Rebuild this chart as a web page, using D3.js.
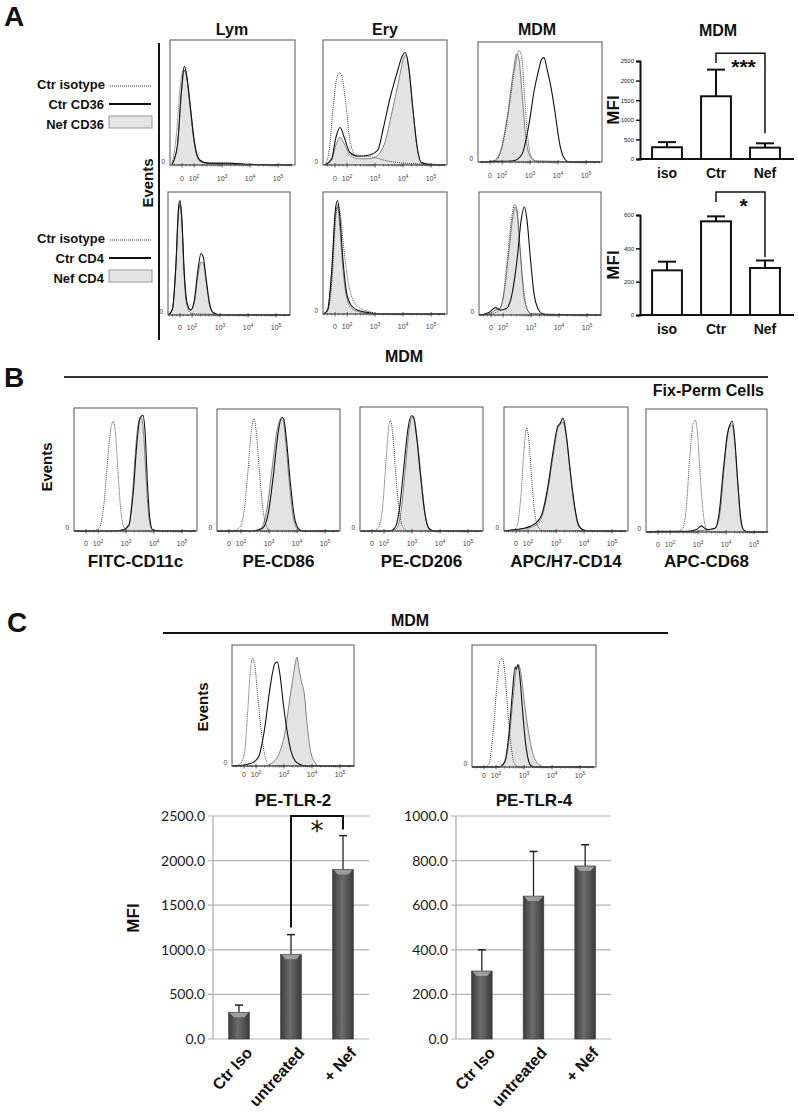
<!DOCTYPE html>
<html>
<head>
<meta charset="utf-8">
<script src="https://cdn.jsdelivr.net/npm/d3@7"></script>
<style>
body { margin: 0; background: #fff; }
svg { display: block; font-family: "Liberation Sans", Arial, sans-serif; }
</style>
</head>
<body>
<svg id="fig" width="798" height="1112"></svg>
<script>
// flow cytometry axis, in log10 units ("0" sits at 1.57 on the biexponential scale)
var histTickPos = [1.57, 2, 3, 4, 5];
var histTickBase = ["0", "10", "10", "10", "10"];
var histTickExp = ["", "2", "3", "4", "5"];

// histogram curves: [log position, relative height]
var lymCD36 = {
  iso: [[1.2,0],[1.35,0.2],[1.5,0.62],[1.62,0.76],[1.7,0.74],[1.8,0.6],[1.95,0.3],[2.1,0.08],[2.3,0.02],[3,0.01],[4,0.005],[5.5,0]],
  ctr: [[1.2,0],[1.4,0.15],[1.55,0.6],[1.65,0.79],[1.72,0.74],[1.85,0.5],[2.0,0.2],[2.2,0.04],[2.5,0.015],[3.2,0.015],[4,0.005],[5.5,0]],
  nef: [[1.2,0],[1.4,0.14],[1.55,0.58],[1.65,0.76],[1.72,0.72],[1.85,0.48],[2.0,0.18],[2.2,0.03],[2.6,0.01],[5.5,0]]
};
var eryCD36 = {
  iso: [[1.2,0],[1.35,0.1],[1.5,0.45],[1.62,0.68],[1.72,0.74],[1.82,0.7],[1.95,0.5],[2.1,0.2],[2.3,0.08],[2.6,0.07],[3.0,0.06],[3.3,0.04],[3.8,0.02],[4.5,0.01],[5.5,0]],
  ctr: [[1.2,0],[1.45,0.05],[1.6,0.22],[1.75,0.3],[1.9,0.22],[2.1,0.1],[2.4,0.07],[2.8,0.08],[3.1,0.12],[3.3,0.3],[3.55,0.55],[3.8,0.75],[3.95,0.86],[4.08,0.9],[4.2,0.78],[4.35,0.45],[4.5,0.15],[4.65,0.02],[5,0],[5.5,0]],
  nef: [[1.2,0],[1.45,0.04],[1.6,0.16],[1.75,0.22],[1.9,0.17],[2.1,0.08],[2.4,0.05],[2.8,0.05],[3.1,0.08],[3.35,0.18],[3.6,0.42],[3.85,0.68],[4.0,0.84],[4.1,0.88],[4.22,0.76],[4.35,0.45],[4.5,0.14],[4.65,0.02],[5.5,0]]
};
var mdmCD36 = {
  iso: [[1.2,0],[1.75,0.01],[2.0,0.12],[2.25,0.45],[2.45,0.78],[2.6,0.93],[2.7,0.88],[2.8,0.55],[2.92,0.2],[3.05,0.04],[3.3,0],[5.5,0]],
  ctr: [[1.2,0],[1.8,0.005],[2.4,0.01],[2.7,0.06],[2.95,0.3],[3.15,0.6],[3.3,0.76],[3.42,0.86],[3.5,0.87],[3.6,0.78],[3.75,0.62],[3.9,0.4],[4.05,0.16],[4.2,0.04],[4.4,0],[5.5,0]],
  nef: [[1.2,0],[1.7,0.01],[1.95,0.1],[2.2,0.4],[2.4,0.75],[2.52,0.9],[2.6,0.86],[2.72,0.55],[2.85,0.2],[3.0,0.05],[3.2,0.01],[5.5,0]]
};
var lymCD4 = {
  iso: [[1.15,0],[1.3,0.05],[1.42,0.4],[1.52,0.86],[1.57,0.9],[1.63,0.78],[1.72,0.3],[1.85,0.05],[2.0,0.01],[5.5,0]],
  ctr: [[1.15,0],[1.3,0.05],[1.42,0.4],[1.52,0.88],[1.57,0.93],[1.63,0.8],[1.72,0.35],[1.82,0.1],[1.95,0.04],[2.08,0.12],[2.2,0.35],[2.32,0.5],[2.4,0.47],[2.5,0.3],[2.62,0.1],[2.75,0.02],[3,0],[5.5,0]],
  nef: [[1.15,0],[1.3,0.05],[1.42,0.38],[1.52,0.85],[1.57,0.9],[1.63,0.78],[1.72,0.33],[1.82,0.09],[1.95,0.04],[2.08,0.1],[2.2,0.3],[2.32,0.43],[2.4,0.42],[2.5,0.27],[2.62,0.08],[2.75,0.02],[3,0],[5.5,0]]
};
var eryCD4 = {
  iso: [[1.15,0],[1.32,0.03],[1.47,0.3],[1.6,0.8],[1.68,0.9],[1.78,0.78],[1.9,0.5],[2.05,0.25],[2.2,0.12],[2.45,0.05],[2.8,0.02],[3.2,0],[5.5,0]],
  ctr: [[1.15,0],[1.3,0.03],[1.45,0.35],[1.58,0.85],[1.66,0.93],[1.74,0.8],[1.85,0.45],[1.98,0.18],[2.15,0.07],[2.4,0.03],[2.8,0.01],[3.2,0],[5.5,0]],
  nef: [[1.15,0],[1.3,0.03],[1.45,0.33],[1.58,0.8],[1.66,0.88],[1.74,0.72],[1.85,0.38],[1.98,0.14],[2.15,0.05],[2.4,0.02],[3,0],[5.5,0]]
};
var mdmCD4 = {
  iso: [[1.15,0],[1.6,0.01],[1.85,0.04],[2.0,0.15],[2.15,0.45],[2.3,0.78],[2.42,0.9],[2.5,0.85],[2.6,0.55],[2.72,0.25],[2.85,0.06],[3.0,0.01],[5.5,0]],
  ctr: [[1.15,0],[1.5,0.02],[1.72,0.06],[1.9,0.04],[2.1,0.05],[2.3,0.15],[2.5,0.45],[2.65,0.78],[2.76,0.88],[2.85,0.78],[2.98,0.45],[3.1,0.18],[3.25,0.05],[3.4,0.01],[3.6,0],[5.5,0]],
  nef: [[1.15,0],[1.5,0.01],[1.72,0.04],[1.9,0.06],[2.05,0.2],[2.2,0.5],[2.35,0.8],[2.43,0.88],[2.52,0.8],[2.62,0.5],[2.72,0.2],[2.85,0.05],[3.0,0.01],[5.5,0]]
};
var cd11c = {
  iso: [[1.15,0],[1.8,0],[2.05,0.03],[2.2,0.2],[2.35,0.6],[2.48,0.86],[2.55,0.89],[2.62,0.8],[2.72,0.45],[2.82,0.15],[2.92,0.03],[3.1,0],[5.5,0]],
  ctr: [[1.15,0],[2.5,0],[2.9,0.01],[3.1,0.05],[3.25,0.3],[3.4,0.75],[3.5,0.92],[3.6,0.94],[3.68,0.8],[3.76,0.4],[3.85,0.1],[3.95,0.01],[4.2,0],[5.5,0]],
  nef: [[1.15,0],[2.5,0],[2.9,0.01],[3.1,0.04],[3.22,0.28],[3.36,0.72],[3.46,0.9],[3.55,0.92],[3.63,0.78],[3.72,0.4],[3.82,0.1],[3.93,0.01],[4.2,0],[5.5,0]]
};
var cd86 = {
  iso: [[1.15,0],[1.7,0],[1.95,0.03],[2.1,0.15],[2.25,0.5],[2.38,0.85],[2.46,0.92],[2.54,0.82],[2.65,0.5],[2.78,0.18],[2.9,0.04],[3.05,0],[5.5,0]],
  ctr: [[1.15,0],[2.4,0],[2.75,0.02],[2.95,0.12],[3.15,0.45],[3.32,0.8],[3.45,0.93],[3.52,0.92],[3.62,0.75],[3.75,0.42],[3.9,0.12],[4.05,0.02],[4.2,0],[5.5,0]],
  nef: [[1.15,0],[2.4,0],[2.7,0.02],[2.9,0.15],[3.1,0.5],[3.28,0.82],[3.42,0.92],[3.5,0.9],[3.6,0.72],[3.72,0.4],[3.86,0.12],[4.0,0.02],[4.2,0],[5.5,0]]
};
var cd206 = {
  iso: [[1.15,0],[1.6,0],[1.8,0.03],[1.95,0.2],[2.08,0.6],[2.18,0.86],[2.23,0.89],[2.3,0.8],[2.42,0.45],[2.55,0.15],[2.68,0.03],[2.85,0],[5.5,0]],
  ctr: [[1.15,0],[2.2,0],[2.4,0.03],[2.55,0.18],[2.7,0.5],[2.85,0.82],[2.97,0.93],[3.05,0.92],[3.15,0.78],[3.3,0.45],[3.45,0.15],[3.6,0.02],[3.8,0],[5.5,0]],
  nef: [[1.15,0],[2.2,0],[2.45,0.02],[2.6,0.15],[2.75,0.48],[2.9,0.82],[3.0,0.92],[3.08,0.9],[3.18,0.75],[3.33,0.42],[3.48,0.12],[3.62,0.02],[3.8,0],[5.5,0]]
};
var cd14 = {
  iso: [[1.15,0],[1.45,0],[1.62,0.05],[1.75,0.3],[1.87,0.7],[1.95,0.83],[2.02,0.75],[2.12,0.45],[2.22,0.18],[2.32,0.05],[2.45,0.01],[2.6,0],[5.5,0]],
  ctr: [[1.15,0],[1.5,0.01],[1.8,0.02],[2.1,0.04],[2.35,0.08],[2.5,0.14],[2.7,0.35],[2.9,0.65],[3.05,0.84],[3.15,0.87],[3.25,0.91],[3.35,0.8],[3.5,0.5],[3.65,0.22],[3.8,0.05],[3.95,0.01],[4.1,0],[5.5,0]],
  nef: [[1.15,0],[1.5,0.01],[1.8,0.015],[2.1,0.03],[2.35,0.06],[2.5,0.12],[2.7,0.32],[2.9,0.62],[3.05,0.82],[3.15,0.86],[3.25,0.88],[3.35,0.78],[3.5,0.48],[3.65,0.2],[3.8,0.04],[3.95,0.01],[4.1,0],[5.5,0]]
};
var cd68 = {
  iso: [[1.15,0],[2.2,0],[2.45,0.03],[2.58,0.2],[2.7,0.6],[2.82,0.88],[2.9,0.91],[2.98,0.8],[3.08,0.45],[3.2,0.12],[3.32,0.02],[3.5,0],[5.5,0]],
  ctr: [[1.15,0],[1.6,0.005],[2.6,0.005],[2.95,0.02],[3.12,0.05],[3.3,0.02],[3.6,0.03],[3.75,0.15],[3.9,0.5],[4.05,0.8],[4.15,0.88],[4.22,0.9],[4.3,0.78],[4.42,0.4],[4.52,0.12],[4.62,0.02],[4.8,0],[5.5,0]],
  nef: [[1.15,0],[2.8,0],[3.0,0.01],[3.3,0.015],[3.6,0.03],[3.78,0.15],[3.92,0.5],[4.05,0.78],[4.15,0.86],[4.22,0.87],[4.3,0.75],[4.42,0.38],[4.52,0.1],[4.62,0.02],[4.8,0],[5.5,0]]
};
var tlr2 = {
  iso: [[1.15,0],[1.4,0.01],[1.58,0.1],[1.7,0.45],[1.8,0.8],[1.88,0.89],[1.95,0.84],[2.05,0.6],[2.18,0.3],[2.3,0.1],[2.42,0.02],[2.6,0],[5.5,0]],
  ctr: [[1.15,0],[1.6,0.01],[1.9,0.03],[2.1,0.08],[2.3,0.3],[2.5,0.65],[2.68,0.85],[2.76,0.86],[2.85,0.76],[2.98,0.5],[3.1,0.3],[3.25,0.12],[3.4,0.04],[3.6,0.01],[3.8,0],[5.5,0]],
  nef: [[1.15,0],[2.3,0],[2.6,0.03],[2.85,0.12],[3.05,0.3],[3.2,0.55],[3.3,0.7],[3.4,0.85],[3.46,0.9],[3.52,0.82],[3.62,0.7],[3.72,0.6],[3.82,0.35],[3.95,0.12],[4.1,0.03],[4.25,0],[5.5,0]]
};
var tlr4 = {
  iso: [[1.15,0],[1.6,0],[1.75,0.03],[1.9,0.3],[2.05,0.72],[2.15,0.88],[2.22,0.89],[2.3,0.8],[2.42,0.45],[2.55,0.15],[2.65,0.03],[2.8,0],[5.5,0]],
  ctr: [[1.15,0],[2.1,0],[2.3,0.04],[2.45,0.25],[2.58,0.6],[2.68,0.82],[2.72,0.8],[2.78,0.84],[2.85,0.74],[2.95,0.45],[3.05,0.2],[3.15,0.06],[3.25,0.01],[3.4,0],[5.5,0]],
  nef: [[1.15,0],[2.1,0],[2.3,0.03],[2.45,0.2],[2.6,0.55],[2.72,0.8],[2.8,0.84],[2.88,0.78],[3.0,0.55],[3.15,0.3],[3.3,0.12],[3.45,0.04],[3.6,0.01],[3.75,0],[5.5,0]]
};

// MFI bar charts, panel A
var mfiCats = ["iso", "Ctr", "Nef"];
var cd36Mfi = [300, 1600, 290];
var cd36Err = [130, 680, 110];
var cd36Ticks = [0, 500, 1000, 1500, 2000, 2500];
var cd4Mfi = [268, 562, 282];
var cd4Err = [52, 30, 45];
var cd4Ticks = [0, 200, 400, 600];

// MFI bar charts, panel C
var tlrCats = ["Ctr Iso", "untreated", "+ Nef"];
var tlr2Mfi = [300, 950, 1900];
var tlr2Err = [80, 220, 380];
var tlr2Ticks = [0, 500, 1000, 1500, 2000, 2500];
var tlr4Mfi = [305, 641, 776];
var tlr4Err = [95, 200, 95];
var tlr4Ticks = [0, 200, 400, 600, 800, 1000];

var svg = d3.select("#fig");
var bold = "bold";

function label(x, y, txt, size, opts) {
  opts = opts || {};
  var t = svg.append("text")
      .attr("x", x).attr("y", y)
      .attr("font-size", size)
      .attr("font-weight", opts.weight || bold)
      .attr("text-anchor", opts.anchor || "middle")
      .attr("fill", opts.fill || "#111")
      .text(txt);
  if (opts.rotate) t.attr("transform", "rotate(" + opts.rotate + "," + x + "," + y + ")");
  if (opts.family) t.attr("font-family", opts.family);
  return t;
}

function histo(x0, y0, w, h, d, labOff) {
  var g = svg.append("g").attr("transform", "translate(" + x0 + "," + y0 + ")");
  var x = d3.scaleLinear().domain([1.14, 1.14 + w / 28]).range([0, w]);
  var y = d3.scaleLinear().domain([0, 1]).range([h, 0]);
  var area = d3.area().x(function(p) { return x(p[0]); }).y0(h)
      .y1(function(p) { return y(p[1]); }).curve(d3.curveMonotoneX);
  var line = d3.line().x(function(p) { return x(p[0]); })
      .y(function(p) { return y(p[1]); }).curve(d3.curveMonotoneX);

  g.append("path").datum(d.nef).attr("d", area)
      .attr("fill", "#e3e3e3").attr("stroke", "#666").attr("stroke-width", 0.8);
  g.append("path").datum(d.iso).attr("d", line)
      .attr("fill", "none").attr("stroke", "#333").attr("stroke-width", 0.9)
      .attr("stroke-dasharray", "1,1");
  g.append("path").datum(d.ctr).attr("d", line)
      .attr("fill", "none").attr("stroke", "#111").attr("stroke-width", 1.1);

  g.append("rect").attr("width", w).attr("height", h)
      .attr("fill", "none").attr("stroke", "#555").attr("stroke-width", 1);

  // minor ticks along the bottom
  var minor = [1.3, 1.45, 1.7, 1.85];
  [2, 3, 4, 5].forEach(function(dec) {
    d3.range(2, 10).forEach(function(k) { minor.push(dec + Math.log10(k)); });
  });
  minor = minor.filter(function(v) { return x(v) < w - 2; });
  g.selectAll(".mn").data(minor).enter().append("line")
      .attr("x1", function(v) { return x(v); }).attr("x2", function(v) { return x(v); })
      .attr("y1", h - 1).attr("y2", h + 1.5)
      .attr("stroke", "#444").attr("stroke-width", 0.6);
  g.selectAll(".mj").data(histTickPos).enter().append("line")
      .attr("x1", function(v) { return x(v); }).attr("x2", function(v) { return x(v); })
      .attr("y1", h - 2).attr("y2", h + 2.5)
      .attr("stroke", "#333").attr("stroke-width", 0.8);
  var tl = g.selectAll(".tl").data(histTickPos).enter().append("text")
      .attr("x", function(v) { return x(v); })
      .attr("y", h + labOff)
      .attr("text-anchor", "middle")
      .attr("font-size", 7)
      .attr("fill", "#444")
      .text(function(v, i) { return histTickBase[i]; });
  tl.append("tspan").attr("dy", -3).attr("font-size", 5)
      .text(function(v, i) { return histTickExp[i]; });
  g.append("text").attr("x", -5).attr("y", h - 1)
      .attr("text-anchor", "end").attr("font-size", 6.5).attr("fill", "#444").text("0");
}

function whiteBars(cfg) {
  var x = d3.scaleBand().domain(mfiCats).range([642.5, 789.5])
      .paddingInner(0.39).paddingOuter(0.195);
  var y = d3.scaleLinear().domain([0, cfg.max]).range([cfg.base, cfg.top]);
  var g = svg.append("g");

  g.selectAll(".err").data(cfg.vals).enter().append("line")
      .attr("x1", function(v, i) { return x(mfiCats[i]) + x.bandwidth() / 2; })
      .attr("x2", function(v, i) { return x(mfiCats[i]) + x.bandwidth() / 2; })
      .attr("y1", function(v) { return y(v); })
      .attr("y2", function(v, i) { return y(v + cfg.errs[i]); })
      .attr("stroke", "#111").attr("stroke-width", 2);
  g.selectAll(".cap").data(cfg.vals).enter().append("line")
      .attr("x1", function(v, i) { return x(mfiCats[i]) + x.bandwidth() / 2 - 9; })
      .attr("x2", function(v, i) { return x(mfiCats[i]) + x.bandwidth() / 2 + 9; })
      .attr("y1", function(v, i) { return y(v + cfg.errs[i]); })
      .attr("y2", function(v, i) { return y(v + cfg.errs[i]); })
      .attr("stroke", "#111").attr("stroke-width", 2);
  g.selectAll(".bar").data(cfg.vals).enter().append("rect")
      .attr("x", function(v, i) { return x(mfiCats[i]); })
      .attr("width", x.bandwidth())
      .attr("y", function(v) { return y(v); })
      .attr("height", function(v) { return cfg.base - y(v); })
      .attr("fill", "#fff").attr("stroke", "#111").attr("stroke-width", 2);

  var ax = g.append("g").attr("transform", "translate(640,0)")
      .call(d3.axisLeft(y).tickValues(cfg.ticks).tickSize(4).tickPadding(2)
        .tickFormat(d3.format("d")));
  ax.select(".domain").attr("stroke-width", 2).attr("stroke", "#111");
  ax.selectAll(".tick line").attr("stroke-width", 1.5).attr("stroke", "#111");
  ax.selectAll(".tick text").attr("font-size", 6).attr("font-family", "Liberation Sans, Arial")
      .attr("fill", "#222");
  g.append("line").attr("x1", 639).attr("x2", 794)
      .attr("y1", cfg.base).attr("y2", cfg.base)
      .attr("stroke", "#111").attr("stroke-width", 2);

  g.selectAll(".cat").data(mfiCats).enter().append("text")
      .attr("x", function(c) { return x(c) + x.bandwidth() / 2; })
      .attr("y", cfg.base + 18.5)
      .attr("text-anchor", "middle").attr("font-size", 14).attr("font-weight", bold)
      .attr("fill", "#111").text(function(c) { return c; });

  // significance bracket between Ctr and Nef
  var cx = x("Ctr") + x.bandwidth() / 2, nx = x("Nef") + x.bandwidth() / 2;
  var b = cfg.bracket;
  g.append("path")
      .attr("d", "M" + cx + "," + y(b[1]) + "V" + y(b[0]) + "H" + nx + "V" + y(b[2]))
      .attr("fill", "none").attr("stroke", "#111").attr("stroke-width", 1.5);
  g.append("text").attr("x", (cx + nx) / 2 + 3).attr("y", y(b[1]) + 11)
      .attr("text-anchor", "middle").attr("font-size", 21).attr("font-weight", bold)
      .attr("fill", "#111").text(cfg.star);

  label(619, (cfg.base + cfg.top) / 2, "MFI", 17, { rotate: -90 });
}

function grayBars(cfg) {
  var x = d3.scaleBand().domain(tlrCats).range(cfg.xr).paddingInner(0.6).paddingOuter(0.3);
  var y = d3.scaleLinear().domain([0, cfg.max]).range([1039, 816]);
  var g = svg.append("g");

  g.selectAll(".grid").data(cfg.ticks).enter().append("line")
      .attr("x1", cfg.xr[0] - 5).attr("x2", cfg.xr[1])
      .attr("y1", function(v) { return y(v); }).attr("y2", function(v) { return y(v); })
      .attr("stroke", "#b3b3b3").attr("stroke-width", 1.2);
  g.append("line").attr("x1", cfg.xr[0]).attr("x2", cfg.xr[0])
      .attr("y1", y(0)).attr("y2", y(cfg.max))
      .attr("stroke", "#a8a8a8").attr("stroke-width", 1.2);
  g.selectAll(".tk").data(cfg.ticks).enter().append("text")
      .attr("x", cfg.xr[0] - 8).attr("y", function(v) { return y(v); })
      .attr("dy", "0.36em").attr("text-anchor", "end")
      .attr("font-size", 14).attr("font-family", "Lato, 'Open Sans', sans-serif")
      .attr("fill", "#1a1a1a").text(d3.format(".1f"));

  var bw = x.bandwidth();
  g.selectAll(".err").data(cfg.vals).enter().append("line")
      .attr("x1", function(v, i) { return x(tlrCats[i]) + bw / 2; })
      .attr("x2", function(v, i) { return x(tlrCats[i]) + bw / 2; })
      .attr("y1", function(v) { return y(v); })
      .attr("y2", function(v, i) { return y(v + cfg.errs[i]); })
      .attr("stroke", "#222").attr("stroke-width", 1.3);
  g.selectAll(".cap").data(cfg.vals).enter().append("line")
      .attr("x1", function(v, i) { return x(tlrCats[i]) + bw / 2 - 4; })
      .attr("x2", function(v, i) { return x(tlrCats[i]) + bw / 2 + 4; })
      .attr("y1", function(v, i) { return y(v + cfg.errs[i]); })
      .attr("y2", function(v, i) { return y(v + cfg.errs[i]); })
      .attr("stroke", "#222").attr("stroke-width", 1.5);
  g.selectAll(".bar").data(cfg.vals).enter().append("rect")
      .attr("x", function(v, i) { return x(tlrCats[i]); })
      .attr("width", bw)
      .attr("y", function(v) { return y(v); })
      .attr("height", function(v) { return y(0) - y(v); })
      .attr("fill", "url(#barGrad)").attr("stroke", "#3a3a3a").attr("stroke-width", 0.6);
  g.selectAll(".hl").data(cfg.vals).enter().append("path")
      .attr("d", function(v, i) {
        var x0 = x(tlrCats[i]), y0 = y(v);
        return "M" + (x0 + 1) + "," + (y0 + 0.5) + "H" + (x0 + bw - 1) +
          "L" + (x0 + bw - 5) + "," + (y0 + 5) + "H" + (x0 + 5) + "Z";
      })
      .attr("fill", "#a9a9a9").attr("opacity", 0.85);

  g.selectAll(".cat").data(tlrCats).enter().append("text")
      .attr("transform", function(c) {
        return "translate(" + (x(c) + bw / 2 + 6) + ",1046) rotate(-48)";
      })
      .attr("text-anchor", "end").attr("dy", "0.7em")
      .attr("font-size", 16).attr("font-weight", bold).attr("fill", "#111")
      .text(function(c) { return c; });

  if (cfg.bracket) {
    var ux = x(tlrCats[1]) + bw / 2, nx = x(tlrCats[2]) + bw / 2;
    var b = cfg.bracket;
    g.append("path")
        .attr("d", "M" + ux + "," + y(b[1]) + "V" + y(b[0]) + "H" + nx + "V" + y(b[2]))
        .attr("fill", "none").attr("stroke", "#111").attr("stroke-width", 2);
    g.append("text").attr("x", (ux + nx) / 2).attr("y", y(b[0]) + 24)
        .attr("text-anchor", "middle").attr("font-size", 26).attr("fill", "#111")
        .attr("font-family", "'DejaVu Sans', sans-serif").text("*");
  }
  return x;
}

var defs = svg.append("defs");
var grad = defs.append("linearGradient").attr("id", "barGrad")
    .attr("x1", "0%").attr("x2", "100%").attr("y1", "0%").attr("y2", "0%");
grad.append("stop").attr("offset", "0%").attr("stop-color", "#3c3c3c");
grad.append("stop").attr("offset", "45%").attr("stop-color", "#6c6c6c");
grad.append("stop").attr("offset", "100%").attr("stop-color", "#3a3a3a");

// ---------- Panel A ----------
label(4, 26, "A", 28, { anchor: "start" });
label(232, 35, "Lym", 16);
label(385, 35, "Ery", 16);
label(537, 35, "MDM", 16);
label(718, 36, "MDM", 16);

histo(170, 40, 125, 125, lymCD36, 16);
histo(323, 40, 124, 125, eryCD36, 16);
histo(478, 42, 124, 120, mdmCD36, 16);
histo(168, 192, 122, 123, lymCD4, 15);
histo(323, 192, 124, 122, eryCD4, 15);
histo(479, 192, 122, 123, mdmCD4, 15);

svg.append("line").attr("x1", 159).attr("x2", 159).attr("y1", 43).attr("y2", 340)
    .attr("stroke", "#111").attr("stroke-width", 2);
label(153, 183, "Events", 15, { rotate: -90 });

function legend(y0, marker) {
  label(105, y0, "Ctr isotype", 13, { anchor: "end" });
  svg.append("line").attr("x1", 110).attr("x2", 152).attr("y1", y0 - 3).attr("y2", y0 - 3)
      .attr("stroke", "#333").attr("stroke-width", 1).attr("stroke-dasharray", "1,1");
  label(104, y0 + 20, "Ctr " + marker, 13, { anchor: "end" });
  svg.append("line").attr("x1", 109).attr("x2", 151).attr("y1", y0 + 15).attr("y2", y0 + 15)
      .attr("stroke", "#111").attr("stroke-width", 2);
  label(104, y0 + 40, "Nef " + marker, 13, { anchor: "end" });
  svg.append("rect").attr("x", 109).attr("y", y0 + 27).attr("width", 43).attr("height", 12)
      .attr("fill", "#e4e4e4").attr("stroke", "#8e98a3").attr("stroke-width", 1);
}
legend(89, "CD36");
legend(243, "CD4");

whiteBars({ vals: cd36Mfi, errs: cd36Err, ticks: cd36Ticks, max: 2500, base: 159, top: 61,
  bracket: [2700, 2450, 660], star: "***" });
whiteBars({ vals: cd4Mfi, errs: cd4Err, ticks: cd4Ticks, max: 600, base: 315, top: 215,
  bracket: [738, 678, 348], star: "*" });

// ---------- Panel B ----------
label(4, 387, "B", 28, { anchor: "start" });
label(404, 362, "MDM", 16);
svg.append("line").attr("x1", 64).attr("x2", 768).attr("y1", 377).attr("y2", 377)
    .attr("stroke", "#333").attr("stroke-width", 2);
label(764, 396, "Fix-Perm Cells", 16, { anchor: "end" });
label(52, 467, "Events", 15, { rotate: -90 });

var bPanels = [
  [74, 408, 123, 123, cd11c, "FITC-CD11c"],
  [217, 409, 123, 122, cd86, "PE-CD86"],
  [360, 407, 123, 124, cd206, "PE-CD206"],
  [504, 407, 124, 124, cd14, "APC/H7-CD14"],
  [646, 409, 121, 123, cd68, "APC-CD68"]
];
bPanels.forEach(function(p) {
  histo(p[0], p[1], p[2], p[3], p[4], 15);
  label(p[0] + p[2] / 2, 567, p[5], 17);
});

// ---------- Panel C ----------
label(7, 632, "C", 28, { anchor: "start" });
label(410, 626, "MDM", 16);
svg.append("line").attr("x1", 163).attr("x2", 668).attr("y1", 633).attr("y2", 633)
    .attr("stroke", "#111").attr("stroke-width", 2);
histo(232, 645, 122, 121, tlr2, 11);
histo(472, 645, 124, 122, tlr4, 11);
label(208, 707, "Events", 15, { rotate: -90 });
label(293, 806, "PE-TLR-2", 17);
label(534, 806, "PE-TLR-4", 17);

grayBars({ xr: [213, 369], vals: tlr2Mfi, errs: tlr2Err, ticks: tlr2Ticks, max: 2500,
  bracket: [2500, 1250, 2350] });
grayBars({ xr: [456, 611], vals: tlr4Mfi, errs: tlr4Err, ticks: tlr4Ticks, max: 1000 });
label(139, 918, "MFI", 17, { rotate: -90 });
</script>
</body>
</html>
